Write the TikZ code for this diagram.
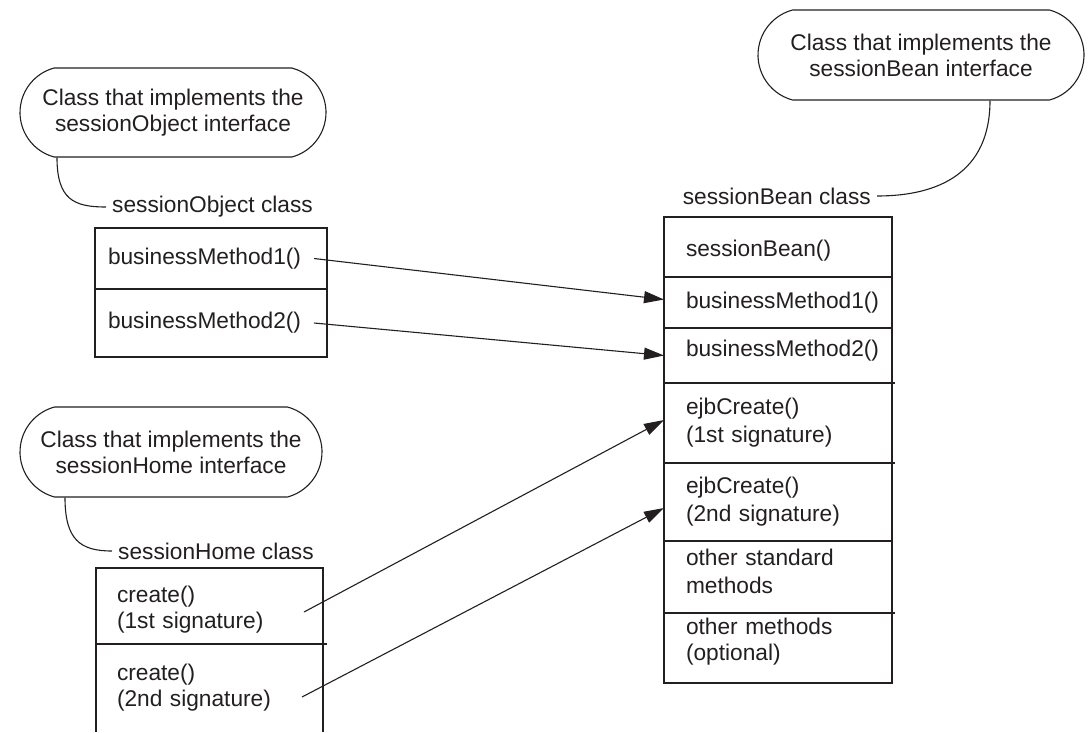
\documentclass[tikz,border=0pt]{standalone}
\usepackage{fontspec}
\setmainfont{Liberation Sans}
\usetikzlibrary{arrows.meta,shapes.misc,calc}
\definecolor{ink}{HTML}{231F20}
\hyphenpenalty=10000
\exhyphenpenalty=10000
\begin{document}
\begin{tikzpicture}[x=1pt,y=-1pt,
  every node/.style={text=ink, font=\fontsize{22.7}{26}\selectfont},
  lineart/.style={draw=ink, line width=1.1pt},
  bubble/.style={lineart, rounded rectangle, rounded rectangle arc length=150,
    inner sep=0pt, align=center},
  tag/.style={inner sep=6pt},
  comp/.style={lineart, rectangle, inner ysep=0pt, outer sep=0pt, align=left,
    anchor=north west},
  lcomp/.style={comp, inner xsep=13pt, text width=206pt},
  hcomp/.style={comp, inner xsep=21pt, text width=185pt},
  rcomp/.style={comp, inner xsep=22pt, text width=184pt,
    font=\fontsize{22.7}{28}\selectfont},
  link/.style={draw=ink, line width=1.1pt},
  call/.style={draw=ink, line width=1.1pt, -{Triangle[length=20pt,width=12pt]}}
]
\useasboundingbox (0,0) rectangle (1090,732);

% interface bubbles
\node[bubble, minimum width=306pt, minimum height=89pt] (b1) at (173,112.5)
  {Class that implements the\\sessionObject interface};
\node[bubble, minimum width=326pt, minimum height=90pt] (b2) at (921,55)
  {Class that implements the\\sessionBean interface};
\node[bubble, minimum width=302pt, minimum height=90pt] (b3) at (171,452)
  {Class that implements the\\sessionHome interface};

% class captions
\node[tag, anchor=west] (lbl1) at (106,207) {sessionObject class};
\node[tag, anchor=east] (lbl2) at (877,196) {sessionBean class};
\node[tag, anchor=west] (lbl3) at (112,551) {sessionHome class};

% sessionObject class
\node[lcomp, minimum height=61pt] (lb1) at (95,228) {businessMethod1()};
\node[lcomp, minimum height=68pt] (lb2) at (lb1.south west) {businessMethod2()};

% sessionHome class (open at the bottom)
\node[hcomp, minimum height=76pt, text height=24.6pt] (h1) at (96,568) {create()\\(1st signature)};
\node[hcomp, draw=none, minimum height=88pt] (h2) at (h1.south west) {create()\\(2nd signature)};
\draw[lineart] (h2.north west) -- (h2.south west);
\draw[lineart] (h2.north east) -- (h2.south east);
\draw[lineart] (h1.south east) -- ++(4,0);

% sessionBean class
\node[rcomp, minimum height=60pt, text height=23pt] (sb1) at (664,217) {sessionBean()};
\node[rcomp, minimum height=51pt] (sb2) at (sb1.south west) {businessMethod1()};
\node[rcomp, minimum height=55pt, text depth=15pt] (sb3) at (sb2.south west) {businessMethod2()};
\node[rcomp, minimum height=80pt] (sb4) at (sb3.south west) {ejbCreate()\\(1st signature)};
\node[rcomp, minimum height=78pt] (sb5) at (sb4.south west) {ejbCreate()\\(2nd signature)};
\node[rcomp, minimum height=72pt, text depth=40pt] (sb6) at (sb5.south west) {other standard\\methods};
\node[rcomp, minimum height=70pt, text height=18pt, text depth=46pt,
  font=\fontsize{22.7}{26}\selectfont] (sb7) at (sb6.south west) {other methods\\(optional)};
\draw[lineart] (sb4.north east) -- ++(3,0);
\draw[lineart] (sb5.north east) -- ++(3,0);
\draw[lineart] (sb7.north east) -- ++(3,0);

% bubble leaders
\draw[link] ([xshift=-116pt]b1.south) .. controls +(0,42) and +(-32,0) .. (lbl1.west);
\draw[link] ([xshift=69pt]b2.south) .. controls +(0,72) and +(62,0) .. (lbl2.east);
\draw[link] ([xshift=-106pt]b3.south) .. controls +(0,42) and +(-32,0) .. (lbl3.west);

% method mappings
\draw[call] ([xshift=-13pt]lb1.east) -- ([yshift=3pt]sb2.west);
\draw[call] ([xshift=-13pt]lb2.east) -- (sb3.west);
\draw[call] ([xshift=-19pt,yshift=-6pt]h1.east) -- ([yshift=3pt]sb4.west);
\draw[call] ([xshift=-21pt,yshift=-9pt]h2.east) -- ([yshift=-6pt]sb5.west);
\end{tikzpicture}
\end{document}
